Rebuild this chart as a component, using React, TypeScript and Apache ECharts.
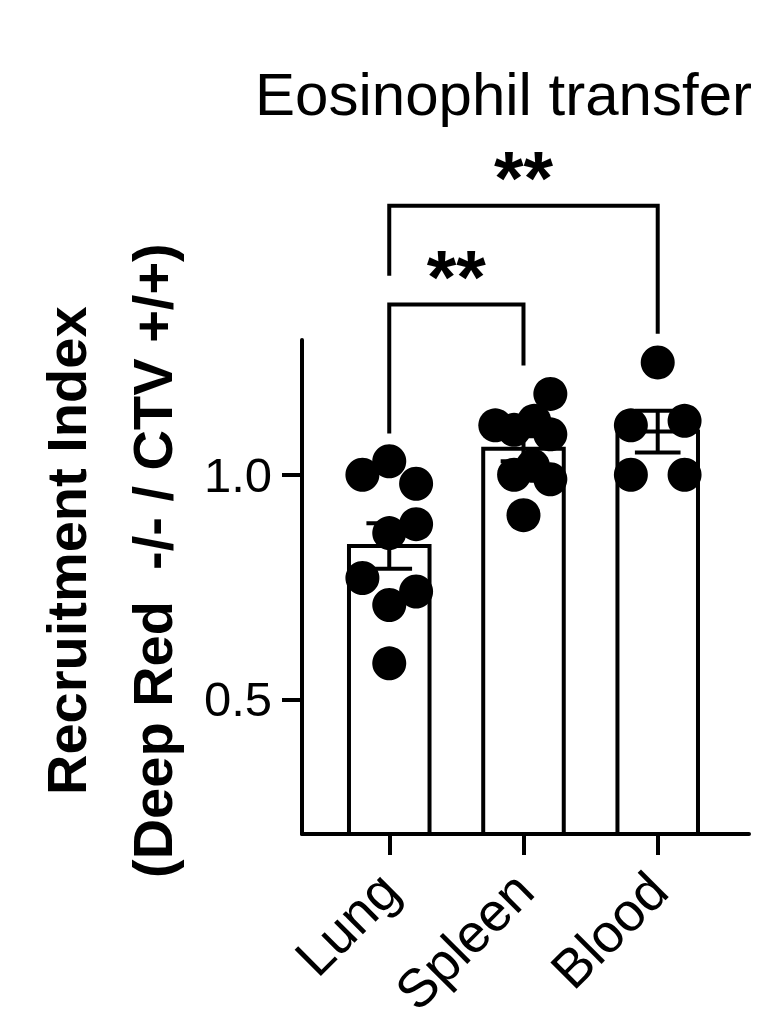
import { useEffect, useRef } from 'react';
import * as echarts from 'echarts';

// groups on the x axis
const categories = ['Lung', 'Spleen', 'Blood'];

// recruitment index per mouse
const lungValues = [1.03, 1.0, 0.98, 0.89, 0.87, 0.77, 0.74, 0.71, 0.58];
const spleenValues = [1.18, 1.11, 1.1, 1.12, 1.09, 1.0, 1.02, 0.99, 0.91];
const bloodValues = [1.25, 1.11, 1.12, 1.0, 1.0];

// horizontal scatter of the dots inside each column (category units)
const lungJitter = [0, -0.2, 0.2, 0.2, 0, -0.2, 0.2, 0, 0];
const spleenJitter = [0.2, -0.21, -0.07, 0.08, 0.2, -0.07, 0.07, 0.2, 0];
const bloodJitter = [0, -0.2, 0.2, -0.2, 0.2];

const yTicks = [0.5, 1.0];

// significance brackets: [from, to, height, leftFoot, rightFoot, label]
const brackets: [number, number, number, number, number, string][] = [
    [0, 1, 1.379, 1.092, 1.243, '**'],
    [0, 2, 1.599, 1.443, 1.314, '**']
];

const groups = [lungValues, spleenValues, bloodValues];
const jitters = [lungJitter, spleenJitter, bloodJitter];

const FONT = '"Liberation Sans", Arial, Helvetica, sans-serif';
const LW = 4;
const Y_MIN = 0.2;
const Y_MAX = 1.3;

const mean = (a: number[]) => a.reduce((s, v) => s + v, 0) / a.length;
const sem = (a: number[]) => {
    const m = mean(a);
    const sd = Math.sqrt(a.reduce((s, v) => s + (v - m) * (v - m), 0) / (a.length - 1));
    return sd / Math.sqrt(a.length);
};

const App = () => {
    const chartRef = useRef<HTMLDivElement | null>(null);

    useEffect(() => {
        if (!chartRef.current) return;
        const chart = echarts.init(chartRef.current, null, { renderer: 'svg' });

        const barData = groups.map((g, i) => [i, mean(g), sem(g)]);
        const pointData: number[][] = [];
        groups.forEach((g, i) => g.forEach((v, j) => pointData.push([i + jitters[i][j], v])));

        const option = {
            animation: false,
            grid: { left: 302, right: 21, top: 340, bottom: 200 },
            xAxis: {
                type: 'value',
                min: -0.65,
                max: 2.68,
                splitLine: { show: false },
                axisLine: { onZero: false, lineStyle: { color: '#000', width: LW } },
                axisTick: { show: true, customValues: [0, 1, 2], length: 21, lineStyle: { color: '#000', width: LW } },
                axisLabel: {
                    customValues: [0, 1, 2],
                    formatter: (v: number) => categories[Math.round(v)],
                    rotate: 45,
                    margin: 47,
                    color: '#000',
                    fontSize: 54,
                    fontFamily: FONT
                }
            },
            yAxis: {
                type: 'value',
                min: Y_MIN,
                max: Y_MAX,
                splitLine: { show: false },
                axisLine: { show: true, onZero: false, lineStyle: { color: '#000', width: LW } },
                axisTick: { show: true, customValues: yTicks, length: 20, lineStyle: { color: '#000', width: LW } },
                axisLabel: {
                    customValues: yTicks,
                    formatter: (v: number) => v.toFixed(1),
                    margin: 30,
                    color: '#000',
                    fontSize: 49,
                    fontFamily: FONT
                }
            },
            graphic: [
                {
                    type: 'text',
                    x: 752,
                    y: 124,
                    style: {
                        text: 'Eosinophil transfer',
                        fill: '#000',
                        font: `60px ${FONT}`,
                        textAlign: 'right',
                        textVerticalAlign: 'bottom'
                    }
                },
                {
                    type: 'text',
                    x: 66,
                    y: 795,
                    rotation: Math.PI / 2,
                    style: {
                        text: 'Recruitment Index',
                        fill: '#000',
                        font: `bold 56px ${FONT}`,
                        textAlign: 'left',
                        textVerticalAlign: 'middle'
                    }
                },
                {
                    type: 'text',
                    x: 152,
                    y: 878,
                    rotation: Math.PI / 2,
                    style: {
                        text: '(Deep Red  -/- / CTV +/+)',
                        fill: '#000',
                        font: `bold 56px ${FONT}`,
                        textAlign: 'left',
                        textVerticalAlign: 'middle'
                    }
                }
            ],
            series: [
                {
                    type: 'custom',
                    name: 'mean',
                    z: 1,
                    data: barData,
                    renderItem: (params: any, api: any) => {
                        const x = api.value(0);
                        const top = api.coord([x - 0.3, api.value(1)]);
                        const bottom = api.coord([x + 0.3, Y_MIN]);
                        return {
                            type: 'rect',
                            shape: { x: top[0], y: top[1], width: bottom[0] - top[0], height: bottom[1] - top[1] },
                            style: { fill: '#fff', stroke: '#000', lineWidth: LW }
                        };
                    }
                },
                {
                    type: 'custom',
                    name: 'sem',
                    z: 2,
                    data: barData,
                    renderItem: (params: any, api: any) => {
                        const x = api.value(0);
                        const m = api.value(1);
                        const e = api.value(2);
                        const hi = api.coord([x, m + e]);
                        const lo = api.coord([x, m - e]);
                        const half = api.size([0.17, 0])[0];
                        const st = { stroke: '#000', lineWidth: LW };
                        return {
                            type: 'group',
                            children: [
                                { type: 'line', shape: { x1: hi[0], y1: hi[1], x2: lo[0], y2: lo[1] }, style: st },
                                { type: 'line', shape: { x1: hi[0] - half, y1: hi[1], x2: hi[0] + half, y2: hi[1] }, style: st },
                                { type: 'line', shape: { x1: lo[0] - half, y1: lo[1], x2: lo[0] + half, y2: lo[1] }, style: st }
                            ]
                        };
                    }
                },
                {
                    type: 'scatter',
                    name: 'mice',
                    z: 3,
                    symbol: 'circle',
                    symbolSize: 34,
                    itemStyle: { color: '#000', opacity: 1 },
                    data: pointData
                },
                {
                    type: 'custom',
                    name: 'significance',
                    z: 4,
                    clip: false,
                    data: brackets,
                    renderItem: (params: any, api: any) => {
                        const b = brackets[params.dataIndex];
                        const l = api.coord([b[0], b[2]]);
                        const r = api.coord([b[1], b[2]]);
                        const lf = api.coord([b[0], b[3]]);
                        const rf = api.coord([b[1], b[4]]);
                        return {
                            type: 'group',
                            children: [
                                {
                                    type: 'polyline',
                                    shape: { points: [lf, l, r, rf] },
                                    style: { stroke: '#000', lineWidth: LW, fill: 'none' }
                                },
                                {
                                    type: 'text',
                                    x: (l[0] + r[0]) / 2,
                                    y: l[1] + 10,
                                    style: {
                                        text: b[5],
                                        fill: '#000',
                                        font: `bold 76px ${FONT}`,
                                        textAlign: 'center',
                                        textVerticalAlign: 'bottom'
                                    }
                                }
                            ]
                        };
                    }
                }
            ]
        };

        chart.setOption(option as any);
        return () => chart.dispose();
    }, []);

    return (
        <div
            ref={chartRef}
            style={{ position: 'fixed', left: 0, top: 0, width: 770, height: 1034, background: '#fff' }}
        />
    );
};

export default App;
